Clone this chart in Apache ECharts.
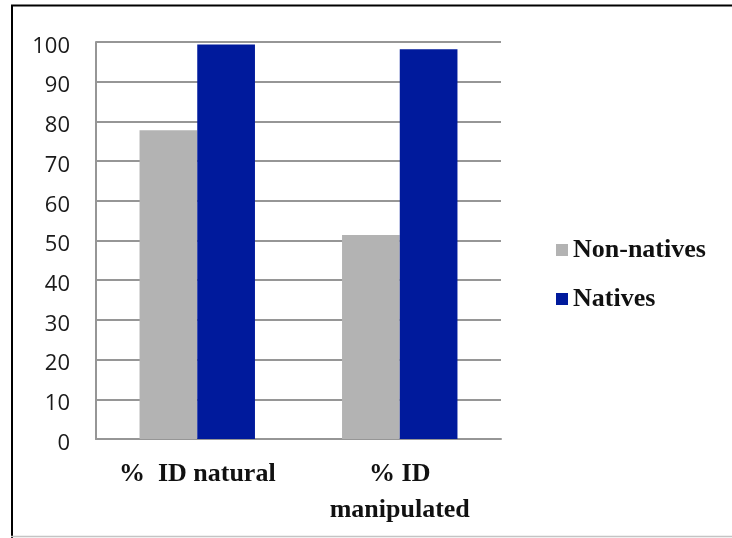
<!DOCTYPE html>
<html>
<head>
<meta charset="utf-8">
<script src="https://cdn.jsdelivr.net/npm/echarts@6/dist/echarts.min.js"></script>
<style>
  html, body { margin: 0; padding: 0; background: #fff; }
  #chart { width: 732px; height: 538px; }
</style>
</head>
<body>
<div id="chart"></div>
<script>
// Identification rates (%) for the two speaker groups
const categories = ['%  ID natural', '% ID\nmanipulated'];
const seriesNames = ['Non-natives', 'Natives'];
const nonNatives = [77.8, 51.4];
const natives = [99.4, 98.2];
const yTicks = [0, 10, 20, 30, 40, 50, 60, 70, 80, 90, 100];

const gridGray = '#969696';
const serif = '"Liberation Serif", "Times New Roman", serif';

const chart = echarts.init(document.getElementById('chart'), null, { renderer: 'canvas' });

chart.setOption({
  animation: false,
  backgroundColor: '#fff',
  grid: { left: 96, right: 231, top: 42, bottom: 99, containLabel: false },
  legend: {
    orient: 'vertical',
    left: 551,
    top: 228,
    itemWidth: 12,
    itemHeight: 12,
    itemGap: 15,
    icon: 'rect',
    data: seriesNames,
    textStyle: {
      fontFamily: serif,
      fontWeight: 'bold',
      fontSize: 26,
      color: '#111',
      lineHeight: 26,
      padding: [8, 0, 0, 0]
    }
  },
  xAxis: {
    type: 'category',
    data: categories,
    axisLine: { show: true, lineStyle: { color: gridGray, width: 2 } },
    axisTick: { show: false },
    axisLabel: {
      margin: 17,
      fontFamily: serif,
      fontWeight: 'bold',
      fontSize: 26,
      lineHeight: 36,
      color: '#111',
      interval: 0
    }
  },
  yAxis: {
    type: 'value',
    min: yTicks[0],
    max: yTicks[yTicks.length - 1],
    interval: yTicks[1] - yTicks[0],
    axisLine: { show: true, lineStyle: { color: gridGray, width: 2 } },
    axisTick: { show: false },
    splitLine: { show: true, lineStyle: { color: gridGray, width: 2 } },
    axisLabel: {
      margin: 26,
      fontFamily: '"Open Sans", "Noto Sans", sans-serif',
      fontSize: 22,
      color: '#1a1a1a',
      verticalAlign: 'top',
      lineHeight: 9
    }
  },
  series: [
    {
      name: seriesNames[0],
      type: 'bar',
      data: nonNatives,
      barGap: '0%',
      barCategoryGap: '43%',
      itemStyle: { color: '#b3b3b3' }
    },
    {
      name: seriesNames[1],
      type: 'bar',
      data: natives,
      barGap: '0%',
      barCategoryGap: '43%',
      itemStyle: { color: '#001a9c' }
    }
  ],
  graphic: [
    // outer frame: black top and left edges, light bottom rule
    { type: 'line', shape: { x1: 11, y1: 5.5, x2: 732, y2: 5.5 }, style: { stroke: '#000', lineWidth: 2 } },
    { type: 'line', shape: { x1: 12, y1: 5, x2: 12, y2: 538 }, style: { stroke: '#000', lineWidth: 2 } },
    { type: 'line', shape: { x1: 11, y1: 536.5, x2: 732, y2: 536.5 }, style: { stroke: '#c4c4c4', lineWidth: 1.5 } }
  ]
});
</script>
</body>
</html>
